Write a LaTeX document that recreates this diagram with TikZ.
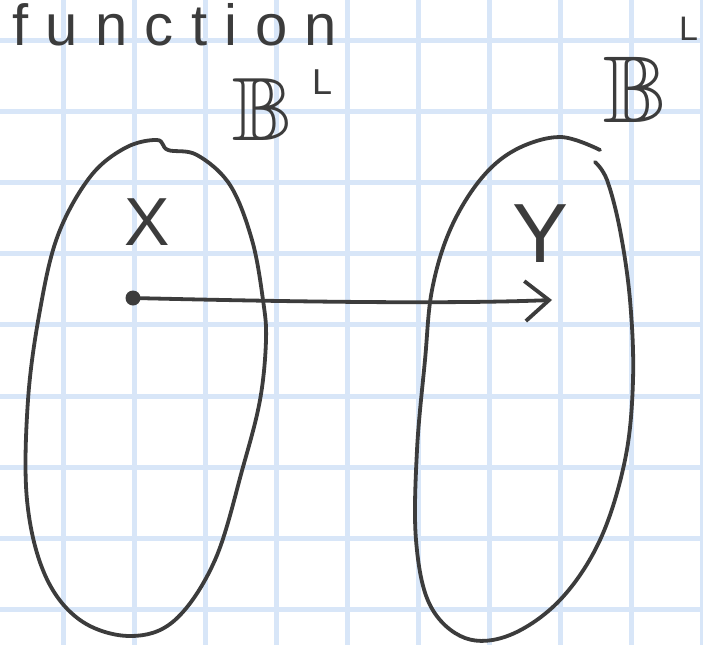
\documentclass[tikz,border=0pt]{standalone}
\usepackage{amssymb}
\usepackage{fontspec}
\setmainfont{Liberation Sans}
\usetikzlibrary{arrows.meta}
\definecolor{gridblue}{RGB}{216,230,248}
\definecolor{ink}{RGB}{60,60,60}
\tikzset{
  gridline/.style={draw=gridblue, line width=5pt},
  pen/.style={draw=ink, line width=3.8pt, line cap=round, line join=round},
  handtext/.style={text=ink, inner sep=0pt},
}
\begin{document}
\begin{tikzpicture}[x=1pt,y=-1pt]
\useasboundingbox (0,0) rectangle (703,645);
\fill[white] (0,0) rectangle (703,645);
% grid
\foreach \k in {0,...,9} {\draw[gridline] ({63+71.1*\k},0) -- ({63+71.1*\k},645);}
\foreach \k in {0,...,8} {\draw[gridline] (0,{40+71.2*\k}) -- (703,{40+71.2*\k});}
% title
\node[handtext, anchor=base west, font=\fontsize{58}{58}\selectfont\addfontfeatures{LetterSpace=30}] (title) at (12,45) {function};
% set labels
\node[handtext, anchor=base west, font=\fontsize{90}{90}\selectfont] (B1) at (232,140) {$\mathbb{B}$};
\node[handtext, anchor=base west, font=\fontsize{36}{36}\selectfont] (B1s) at (312,94) {L};
\node[handtext, anchor=base west, font=\fontsize{95}{95}\selectfont] (B2) at (603,122) {$\mathbb{B}$};
\node[handtext, anchor=base west, font=\fontsize{34}{34}\selectfont] (B2s) at (679,40) {L};
% element labels
\node[handtext, anchor=base, font=\fontsize{68}{68}\selectfont] (X) at (147,245) {X};
\node[handtext, anchor=base, font=\fontsize{84}{84}\selectfont] (Y) at (541,262) {Y};
% left set
\draw[pen] plot[smooth cycle, tension=0.6] coordinates {(157,140) (168,150) (197,155) (230,185) (252,240) (263,300) (266,340) (260,400) (243,467) (215,560) (175,620) (130,636) (80,620) (45,575) (27,500) (28,400) (40,310) (58,235) (90,177) (125,148)};
% right set
\draw[pen] plot[smooth, tension=0.6] coordinates {(600,150) (560,137) (515,150) (480,180) (450,230) (432,290) (425,360) (417,450) (416,540) (430,605) (465,638) (510,635) (560,600) (600,540) (625,460) (633,380) (630,300) (620,230) (607,180) (595,162)};
% element and mapping arrow
\node[circle, fill=ink, inner sep=0pt, minimum size=15pt] (x) at (133,298) {};
\coordinate (y) at (552,300);
\draw[pen, -{Straight Barb[length=24pt, width=40pt, line width=3.8pt]}] (x.center) .. controls (300,302) and (450,304) .. (y);
\end{tikzpicture}
\end{document}
